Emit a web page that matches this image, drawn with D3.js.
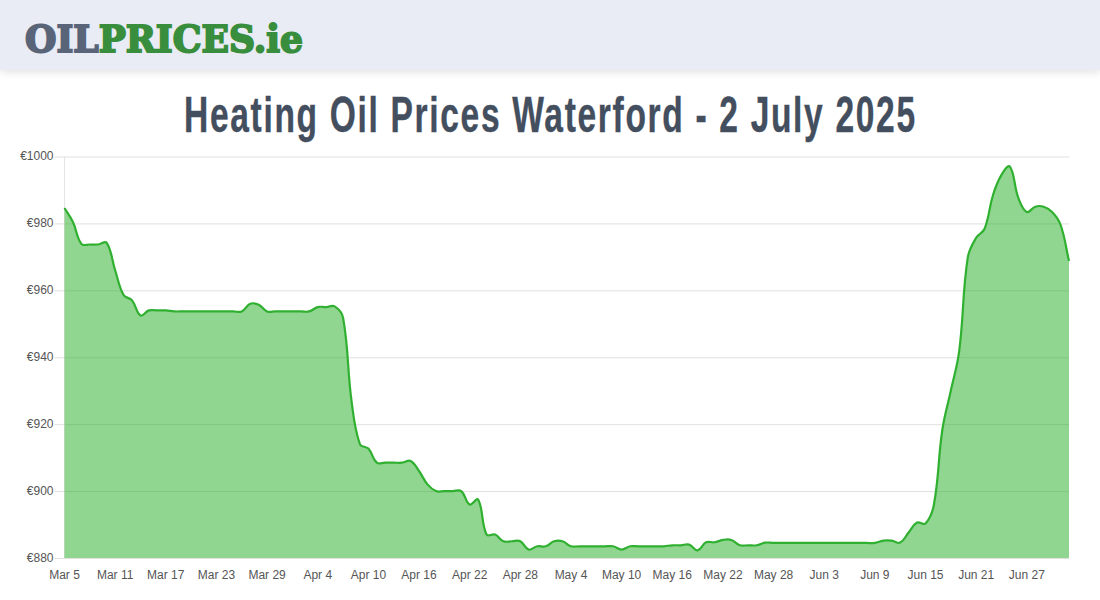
<!DOCTYPE html>
<html>
<head>
<meta charset="utf-8">
<script src="https://cdn.jsdelivr.net/npm/d3@7"></script>
<style>
  html, body { margin: 0; padding: 0; background: #fff; overflow: hidden; }
  svg { display: block; }
  .axis text { font-family: "Liberation Sans", Arial, sans-serif; font-size: 12px; fill: #555; }
</style>
</head>
<body>
<svg id="chart" width="1100" height="600"></svg>
<script>
const firstDay = new Date(Date.UTC(2025, 2, 5))
const lastDay = new Date(Date.UTC(2025, 6, 2))

// one price per day, Mar 5 to Jul 2
const prices = [
  984.6, 980.4, 973.9, 973.7, 973.7, 974.2, 966, 958.6, 957, 952.5,
  954, 954, 954, 953.7, 953.7, 953.7, 953.7, 953.7, 953.7, 953.7,
  953.7, 953.7, 956, 955.7, 953.7, 953.7, 953.7, 953.7, 953.7, 953.7,
  955, 955, 955.2, 951.8, 927, 914, 912.7, 908.5, 908.5, 908.5,
  908.5, 909, 906, 902, 900, 900, 900, 900, 896, 897.5,
  887, 887, 885, 885, 885, 882.5, 883.5, 883.5, 885, 885,
  883.5, 883.5, 883.5, 883.5, 883.5, 883.5, 882.5, 883.5, 883.5, 883.5,
  883.5, 883.5, 883.8, 883.8, 884, 882.3, 884.7, 884.7, 885.4, 885.4,
  883.8, 883.8, 883.8, 884.6, 884.5, 884.5, 884.5, 884.5, 884.5, 884.5,
  884.5, 884.5, 884.5, 884.5, 884.5, 884.5, 884.5, 885.2, 885.2, 884.6,
  887.6, 890.6, 890.3, 896, 918.4, 930, 942, 969.7, 975.7, 978.4,
  988.5, 994.5, 997, 987.6, 983.4, 985, 985, 983.4, 979.6, 968.8
]
const days = d3.utcDay.range(firstDay, d3.utcDay.offset(lastDay, 1))
const points = days.map((d, i) => ({ day: d, price: prices[i] }))

const priceTicks = [880, 900, 920, 940, 960, 980, 1000]
const dayTicks = d3.utcDay.range(firstDay, lastDay, 6)

// squeeze a text sideways until it is exactly this wide
function fitWidth (sel, left, baseline, width) {
  const len = sel.node().getComputedTextLength()
  sel.attr('transform', `translate(${left},${baseline}) scale(${width / len},1)`)
}

// distance weighted bezier spline, tension 0.4
function weightedSpline (context) {
  let pts = []
  let inArea = NaN
  return {
    areaStart () { inArea = 0 },
    areaEnd () { inArea = NaN },
    lineStart () { pts = [] },
    point (px, py) { pts.push([+px, +py]) },
    lineEnd () {
      const t = 0.4
      const cps = pts.map((p, i) => {
        const a = pts[i - 1] || p
        const b = pts[i + 1] || p
        const d01 = Math.hypot(p[0] - a[0], p[1] - a[1])
        const d12 = Math.hypot(b[0] - p[0], b[1] - p[1])
        const sum = d01 + d12 || 1
        return {
          inX: p[0] - t * (d01 / sum) * (b[0] - a[0]),
          inY: p[1] - t * (d01 / sum) * (b[1] - a[1]),
          outX: p[0] + t * (d12 / sum) * (b[0] - a[0]),
          outY: p[1] + t * (d12 / sum) * (b[1] - a[1])
        }
      })
      pts.forEach((p, i) => {
        if (i === 0) {
          if (inArea === 1) context.lineTo(p[0], p[1])
          else context.moveTo(p[0], p[1])
        } else {
          context.bezierCurveTo(cps[i - 1].outX, cps[i - 1].outY, cps[i].inX, cps[i].inY, p[0], p[1])
        }
      })
      if (inArea === 1) context.closePath()
      if (inArea === 0) inArea = 1
    }
  }
}

const svg = d3.select('#chart')

// header band
const defs = svg.append('defs')
const blur = defs.append('filter').attr('id', 'shadow').attr('y', '-20%').attr('height', '150%')
blur.append('feDropShadow').attr('dx', 0).attr('dy', 2).attr('stdDeviation', 4)
  .attr('flood-color', '#000').attr('flood-opacity', 0.12)

svg.append('rect').attr('width', 1100).attr('height', 70)
  .attr('fill', '#e9ecf4').attr('filter', 'url(#shadow)')

const logo = svg.append('text')
  .attr('font-family', '"DejaVu Serif", serif')
  .attr('font-weight', 'bold')
  .attr('font-size', 38)
  .attr('stroke-width', 2)
logo.append('tspan').attr('fill', '#5a6478').attr('stroke', '#5a6478').text('OIL')
logo.append('tspan').attr('fill', '#388e3c').attr('stroke', '#388e3c').text('PRICES.ie')
fitWidth(logo, 25, 52, 278)

const title = svg.append('text')
  .attr('font-family', '"Liberation Sans", sans-serif')
  .attr('font-weight', 'bold')
  .attr('font-size', 50)
  .attr('letter-spacing', 2.5)
  .attr('fill', '#434e5e')
  .attr('stroke', '#434e5e')
  .attr('stroke-width', 0.4)
  .text('Heating Oil Prices Waterford - 2 July 2025')
fitWidth(title, 184, 132, 733)

const x = d3.scaleUtc().domain([firstDay, lastDay]).range([64.5, 1069])
const y = d3.scaleLinear().domain([880, 1000]).range([558, 156.5])

// axes
const yAxis = d3.axisLeft(y)
  .tickValues(priceTicks)
  .tickFormat(d => '€' + d)
  .tickSize(10)
  .tickPadding(1)
const yG = svg.append('g').attr('class', 'axis').attr('transform', 'translate(64.5,0)').call(yAxis)
yG.select('.domain').attr('stroke', '#e4e4e4').attr('d', 'M0,156.5V558')
yG.selectAll('.tick line').attr('stroke', '#e0e0e0')
yG.selectAll('.tick text').attr('dy', '0.25em')
yG.selectAll('.tick').append('line')
  .attr('x1', 0).attr('x2', 1069 - 64.5)
  .attr('stroke', '#e0e0e0')

const xAxis = d3.axisBottom(x)
  .tickValues(dayTicks)
  .tickFormat(d3.utcFormat('%b %-d'))
  .tickSize(0)
  .tickPadding(12)
const xG = svg.append('g').attr('class', 'axis').attr('transform', 'translate(-0.5,558)').call(xAxis)
xG.select('.domain').remove()

// price curve
const area = d3.area()
  .x(d => x(d.day))
  .y0(y(880))
  .y1(d => y(d.price))
  .curve(weightedSpline)

const line = d3.line()
  .x(d => x(d.day))
  .y(d => y(d.price))
  .curve(weightedSpline)

svg.append('path').datum(points)
  .attr('d', area)
  .attr('fill', 'rgba(33,174,33,0.5)')

svg.append('path').datum(points)
  .attr('d', line)
  .attr('fill', 'none')
  .attr('stroke', '#30b030')
  .attr('stroke-width', 2.2)
</script>
</body>
</html>
